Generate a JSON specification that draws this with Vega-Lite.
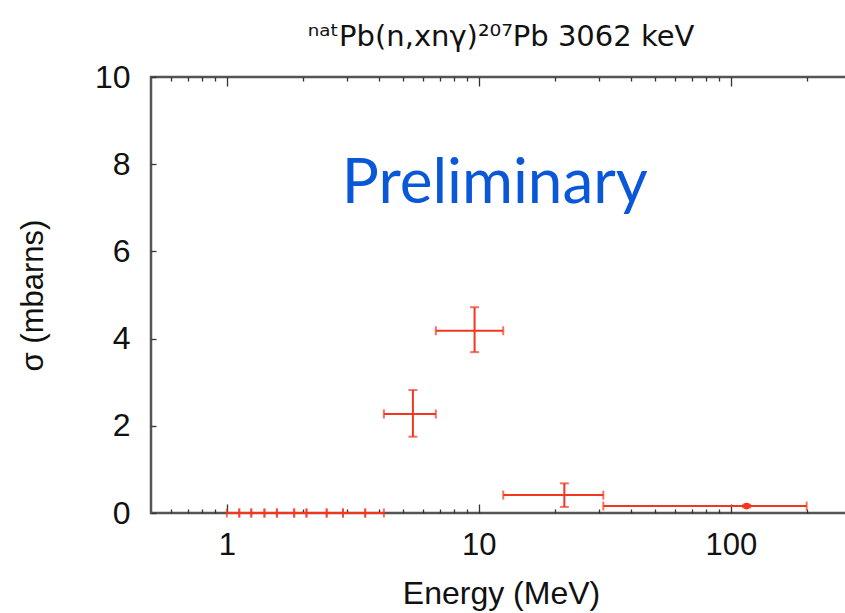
{
  "$schema": "https://vega.github.io/schema/vega-lite/v6.json",
  "width": 700,
  "height": 436,
  "autosize": "none",
  "padding": {"left": 151, "top": 77, "right": 0, "bottom": 100},
  "background": "white",
  "config": {
    "view": {"stroke": "#555555", "strokeWidth": 2.5},
    "font": "Liberation Sans"
  },
  "title": {
    "text": "ⁿᵃᵗPb(n,xnγ)²⁰⁷Pb 3062 keV",
    "font": "DejaVu Sans",
    "fontSize": 29,
    "fontWeight": "normal",
    "color": "#111111",
    "anchor": "middle",
    "offset": 9
  },
  "data": {
    "values": [
      {"E": 1.06, "Elo": 1.0, "Ehi": 1.12, "s": 0, "slo": 0, "shi": 0},
      {"E": 1.185, "Elo": 1.12, "Ehi": 1.25, "s": 0, "slo": 0, "shi": 0},
      {"E": 1.33, "Elo": 1.25, "Ehi": 1.41, "s": 0, "slo": 0, "shi": 0},
      {"E": 1.495, "Elo": 1.41, "Ehi": 1.58, "s": 0, "slo": 0, "shi": 0},
      {"E": 1.715, "Elo": 1.58, "Ehi": 1.85, "s": 0, "slo": 0, "shi": 0},
      {"E": 1.96, "Elo": 1.85, "Ehi": 2.07, "s": 0, "slo": 0, "shi": 0},
      {"E": 2.28, "Elo": 2.07, "Ehi": 2.49, "s": 0, "slo": 0, "shi": 0},
      {"E": 2.69, "Elo": 2.49, "Ehi": 2.89, "s": 0, "slo": 0, "shi": 0},
      {"E": 3.215, "Elo": 2.89, "Ehi": 3.54, "s": 0, "slo": 0, "shi": 0},
      {"E": 3.87, "Elo": 3.54, "Ehi": 4.2, "s": 0, "slo": 0, "shi": 0},
      {"E": 5.475, "Elo": 4.2, "Ehi": 6.75, "s": 2.27, "slo": 1.75, "shi": 2.82},
      {"E": 9.62, "Elo": 6.75, "Ehi": 12.5, "s": 4.18, "slo": 3.69, "shi": 4.72},
      {"E": 21.85, "Elo": 12.5, "Ehi": 31.2, "s": 0.41, "slo": 0.14, "shi": 0.68},
      {"E": 115.6, "Elo": 31.2, "Ehi": 200, "s": 0.16, "slo": 0.13, "shi": 0.19}
    ]
  },
  "resolve": {"axis": {"x": "independent", "y": "independent"}},
  "layer": [
    {
      "mark": {"type": "rule", "color": "#f2361f", "strokeWidth": 2},
      "encoding": {
        "x": {
          "field": "Elo", "type": "quantitative",
          "scale": {"type": "log", "domain": [0.5, 300], "nice": false},
          "axis": {
            "orient": "bottom",
            "title": "Energy (MeV)",
            "titleFont": "Liberation Sans",
            "titleFontSize": 32,
            "titleFontWeight": "normal",
            "titleColor": "#111111",
            "titlePadding": 13,
            "values": [0.6, 0.7, 0.8, 0.9, 1, 2, 3, 4, 5, 6, 7, 8, 9, 10, 20, 30, 40, 50, 60, 70, 80, 90, 100, 200, 300],
            "labelExpr": "datum.value === 1 || datum.value === 10 || datum.value === 100 ? datum.value : ''",
            "labelFont": "Liberation Sans",
            "labelFontSize": 31,
            "labelColor": "#111111",
            "labelPadding": 26,
            "labelOverlap": false,
            "labelBound": false,
            "labelFlush": false,
            "domain": false,
            "grid": false,
            "tickColor": "#333333",
            "tickWidth": 1.3,
            "tickSize": {"condition": {"test": "datum.value === 1 || datum.value === 10 || datum.value === 100", "value": -9}, "value": -4}
          }
        },
        "x2": {"field": "Ehi"},
        "y": {
          "field": "s", "type": "quantitative",
          "scale": {"domain": [0, 10], "nice": false},
          "axis": {
            "orient": "left",
            "title": "σ (mbarns)",
            "titleFont": "Liberation Sans",
            "titleFontSize": 31,
            "titleFontWeight": "normal",
            "titleColor": "#111111",
            "titlePadding": 45,
            "values": [0, 2, 4, 6, 8, 10],
            "labelFont": "Liberation Sans",
            "labelFontSize": 32,
            "labelColor": "#111111",
            "labelPadding": 26,
            "labelOverlap": false,
            "labelBound": false,
            "labelFlush": false,
            "domain": false,
            "grid": false,
            "tickColor": "#333333",
            "tickWidth": 1.3,
            "tickSize": -5
          }
        }
      }
    },
    {
      "transform": [{"filter": "datum.s > 0"}],
      "mark": {"type": "rule", "color": "#f2361f", "strokeWidth": 2},
      "encoding": {
        "x": {"field": "E", "type": "quantitative", "axis": null},
        "y": {"field": "slo", "type": "quantitative", "axis": null},
        "y2": {"field": "shi"}
      }
    },
    {
      "transform": [{"fold": ["Elo", "Ehi"], "as": ["edge", "Eedge"]}],
      "mark": {"type": "tick", "orient": "vertical", "color": "#f2361f", "thickness": 2, "size": 9},
      "encoding": {
        "x": {
          "field": "Eedge", "type": "quantitative",
          "axis": {
            "orient": "top",
            "title": null,
            "labels": false,
            "values": [0.6, 0.7, 0.8, 0.9, 1, 2, 3, 4, 5, 6, 7, 8, 9, 10, 20, 30, 40, 50, 60, 70, 80, 90, 100, 200, 300],
            "domain": false,
            "grid": false,
            "tickColor": "#333333",
            "tickWidth": 1.3,
            "tickSize": {"condition": {"test": "datum.value === 1 || datum.value === 10 || datum.value === 100", "value": -9}, "value": -4}
          }
        },
        "y": {
          "field": "s", "type": "quantitative",
          "axis": {
            "orient": "right",
            "title": null,
            "labels": false,
            "values": [2, 4, 6, 8],
            "domain": false,
            "grid": false,
            "tickColor": "#333333",
            "tickWidth": 1.3,
            "tickSize": -5
          }
        }
      }
    },
    {
      "transform": [{"filter": "datum.s > 0"}, {"fold": ["slo", "shi"], "as": ["edge", "sedge"]}],
      "mark": {"type": "tick", "orient": "horizontal", "color": "#f2361f", "thickness": 2, "size": 9},
      "encoding": {
        "x": {"field": "E", "type": "quantitative", "axis": null},
        "y": {"field": "sedge", "type": "quantitative", "axis": null}
      }
    },
    {
      "transform": [{"filter": "datum.E > 100"}],
      "mark": {"type": "point", "filled": true, "shape": "circle", "color": "#f2361f", "size": 45, "opacity": 1},
      "encoding": {
        "x": {"field": "E", "type": "quantitative", "axis": null},
        "y": {"field": "s", "type": "quantitative", "axis": null}
      }
    },
    {
      "data": {"values": [{"E": 11.57, "s": 7.11, "label": "Preliminary"}]},
      "mark": {"type": "text", "font": "Lato", "fontSize": 62, "color": "#0a58d8", "align": "center", "baseline": "alphabetic"},
      "encoding": {
        "x": {"field": "E", "type": "quantitative", "axis": null},
        "y": {"field": "s", "type": "quantitative", "axis": null},
        "text": {"field": "label"}
      }
    }
  ]
}
